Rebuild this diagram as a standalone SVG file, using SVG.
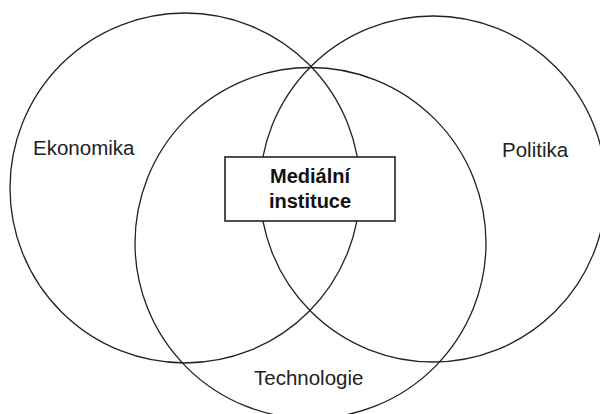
<svg xmlns="http://www.w3.org/2000/svg" width="600" height="414" viewBox="0 0 600 414">
<style>
.c{fill:none;stroke:#222;stroke-width:1.3}
.t{font-family:"Liberation Sans",Arial,sans-serif;font-size:20.5px;fill:#222}
.b{font-family:"Liberation Sans",Arial,sans-serif;font-size:20px;font-weight:bold;fill:#111;text-anchor:middle}
</style>
<rect width="600" height="414" fill="#fff"/>
<g id="ekonomika">
<circle class="c" cx="185" cy="188" r="175"/>
<text class="t" x="33" y="155">Ekonomika</text>
</g>
<g id="politika">
<circle class="c" cx="433" cy="189" r="173"/>
<text class="t" x="502" y="157">Politika</text>
</g>
<g id="technologie">
<circle class="c" cx="310.5" cy="243" r="175.5"/>
<text class="t" x="254" y="385">Technologie</text>
</g>
<g id="medialni-instituce">
<rect x="225" y="157" width="170" height="64" fill="#fff" stroke="#222" stroke-width="1.6"/>
<text class="b" x="310" y="183">Mediální</text>
<text class="b" x="310" y="208">instituce</text>
</g>
<g id="connectors"></g>
</svg>
